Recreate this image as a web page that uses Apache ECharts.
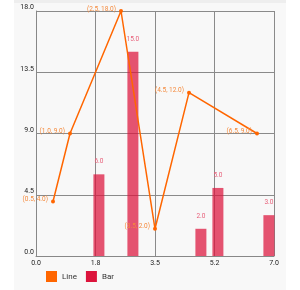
<!DOCTYPE html>
<html><head><meta charset="utf-8">
<script src="https://cdn.jsdelivr.net/npm/echarts@6/dist/echarts.min.js"></script>
<style>html,body{margin:0;padding:0;background:#fff}#c{width:300px;height:290px}</style>
</head><body><div id="c"></div>
<script>
var lineX = [0.5, 1.0, 2.5, 3.5, 4.5, 6.5];
var lineY = [4.0, 9.0, 18.0, 2.0, 12.0, 9.0];
var barX = [1.85, 2.85, 4.85, 5.35, 6.85];
var barY = [6.0, 15.0, 2.0, 5.0, 3.0];
var xTickLabels = ['0.0', '1.8', '3.5', '5.2', '7.0'];
var yTickLabels = ['0.0', '4.5', '9.0', '13.5', '18.0'];

var chart = echarts.init(document.getElementById('c'), null, {renderer: 'canvas'});
var lineData = lineX.map(function (x, i) { return [x, lineY[i]]; });
var barData = barX.map(function (x, i) { return [x, barY[i]]; });
chart.setOption({
  animation: false,
  graphic: [
    {type: 'rect', silent: true, z: -10, shape: {x: 14, y: 0, width: 272, height: 290}, style: {fill: '#f8f8f8'}},
    {type: 'rect', silent: true, z: -9, shape: {x: 14, y: 0, width: 272, height: 3}, style: {fill: '#eeeeee'}}
  ],
  grid: {left: 36, right: 26, top: 11, bottom: 34, containLabel: false},
  legend: {
    left: 41, bottom: 3, itemWidth: 11, itemHeight: 11, itemGap: 9,
    textStyle: {fontSize: 8, color: '#333', fontFamily: 'Roboto'},
    data: [
      {name: 'Line', icon: 'rect', itemStyle: {color: '#ff6600'}},
      {name: 'Bar', icon: 'rect', itemStyle: {color: '#dc143c'}}
    ]
  },
  xAxis: {
    type: 'value', min: 0, max: 7, interval: 1.75,
    axisLine: {show: true, lineStyle: {color: '#888', width: 1}},
    axisTick: {show: false},
    splitLine: {show: true, lineStyle: {color: '#8a8a8a', width: 1}},
    axisLabel: {
      fontSize: 7, color: '#222', fontFamily: 'Roboto', margin: 4,
      formatter: function (v) { return xTickLabels[Math.round(v / 1.75)]; }
    }
  },
  yAxis: {
    type: 'value', min: 0, max: 18, interval: 4.5,
    axisLine: {show: true, lineStyle: {color: '#888', width: 1}},
    axisTick: {show: false},
    splitLine: {show: true, lineStyle: {color: '#8a8a8a', width: 1}},
    axisLabel: {
      fontSize: 7, color: '#222', fontFamily: 'Roboto', margin: 2,
      verticalAlign: 'bottom',
      formatter: function (v) { return yTickLabels[Math.round(v / 4.5)]; }
    }
  },
  series: [
    {
      name: 'Bar', type: 'bar', data: barData, barWidth: 11,
      itemStyle: {color: 'rgba(220,20,60,0.72)'},
      label: {
        show: true, position: 'top', distance: 9, fontSize: 6.5, fontFamily: 'Roboto',
        color: '#e8607a',
        formatter: function (p) { return p.value[1].toFixed(1); }
      }
    },
    {
      name: 'Line', type: 'line', data: lineData, symbol: 'circle', symbolSize: 4,
      lineStyle: {color: '#ff6600', width: 1.5},
      itemStyle: {color: '#ff6600'},
      label: {
        show: true, position: 'left', distance: 3, fontSize: 6.5, fontFamily: 'Roboto',
        color: '#f58a3c', offset: [0, -2],
        formatter: function (p) { return '(' + p.value[0].toFixed(1) + ', ' + p.value[1].toFixed(1) + ')'; }
      },
      z: 3
    }
  ]
});
</script></body></html>
